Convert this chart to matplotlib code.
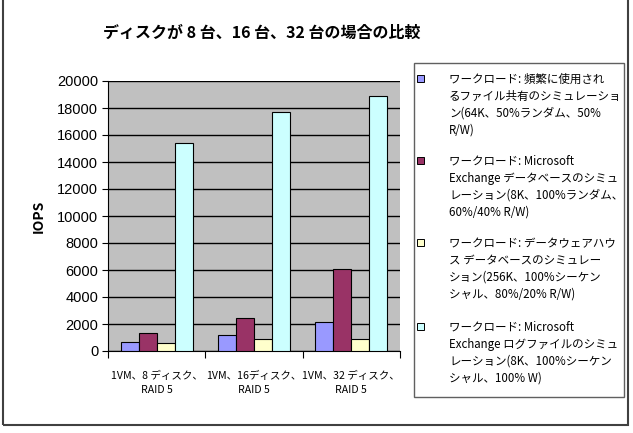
import matplotlib.pyplot as plt
from matplotlib.patches import Rectangle
import numpy as np

plt.rcParams['font.family'] = ['Noto Sans CJK JP', 'DejaVu Sans']

# data
title = 'ディスクが 8 台、16 台、32 台の場合の比較'
categories = ['1VM、8 ディスク、\nRAID 5', '1VM、16ディスク、\nRAID 5', '1VM、32 ディスク、\nRAID 5']
series_labels = [
    'ワークロード: 頻繁に使用され\nるファイル共有のシミュレーショ\nン(64K、50%ランダム、50%\nR/W)',
    'ワークロード: Microsoft\nExchange データベースのシミュ\nレーション(8K、100%ランダム、\n60%/40% R/W)',
    'ワークロード: データウェアハウ\nス データベースのシミュレー\nション(256K、100%シーケン\nシャル、80%/20% R/W)',
    'ワークロード: Microsoft\nExchange ログファイルのシミュ\nレーション(8K、100%シーケン\nシャル、100% W)',
]
file_share = [690, 1160, 2170]
exchange_db = [1310, 2420, 6070]
warehouse = [570, 870, 870]
exchange_log = [15380, 17700, 18890]
series = [file_share, exchange_db, warehouse, exchange_log]
colors = ['#9999FF', '#993366', '#FFFFCC', '#CCFFFF']
yticks = list(range(0, 20001, 2000))

W, H = 633, 433
fig = plt.figure(figsize=(W / 100, H / 100), dpi=100)
ax = fig.add_axes([108 / W, 1 - 351 / H, 292 / W, 270 / H])
ax.set_facecolor('#C0C0C0')

# bars
x = np.arange(len(categories))
bw = 0.185
for i, (vals, c) in enumerate(zip(series, colors)):
    ax.bar(x + (i - 1.5) * bw, vals, bw, color=c, edgecolor='black', linewidth=0.8, zorder=3)

ax.set_xlim(-0.5, len(categories) - 0.5)
ax.set_ylim(0, 20000)
ax.set_yticks(yticks)
ax.set_yticklabels([str(v) for v in yticks], family='Liberation Sans', fontsize=10.5)
ax.yaxis.grid(True, color='black', linewidth=1.0, zorder=1)
ax.set_axisbelow(True)

# category ticks at group boundaries
ax.set_xticks(np.arange(-0.5, len(categories), 1.0))
ax.set_xticklabels([])
ax.set_xticks(x, minor=True)
ax.set_xticklabels(categories, minor=True, fontsize=7.6, linespacing=1.6)
ax.tick_params(axis='x', which='minor', length=0, pad=14)
ax.tick_params(axis='x', which='major', length=5, color='black', direction='out')
ax.tick_params(axis='y', length=4, color='black', pad=3)

for s in ['top', 'right']:
    ax.spines[s].set_visible(False)
ax.spines['left'].set_color('black')
ax.spines['bottom'].set_color('black')

ax.set_ylabel('IOPS', fontsize=10, fontweight='bold', labelpad=8)

fig.text(262 / W, 1 - 33 / H, title, ha='center', va='center', fontsize=11.5, fontweight='bold')

# legend box drawn by hand
fig.patches.append(Rectangle((414 / W, 1 - 397 / H), 210 / W, 334 / H, transform=fig.transFigure,
                             facecolor='white', edgecolor='#606060', linewidth=1.0))
entry_y = [78, 160, 242, 326]
for lab, c, yy in zip(series_labels, colors, entry_y):
    fig.patches.append(Rectangle((417 / W, 1 - (yy + 3.5) / H), 7 / W, 7 / H, transform=fig.transFigure,
                                 facecolor=c, edgecolor='black', linewidth=0.7))
    fig.text(449 / W, 1 - (yy - 5) / H, lab, ha='left', va='top', fontsize=8.3, linespacing=1.4)

# outer chart frame
fig.patches.append(Rectangle((3 / W, 1 - 425 / H), 625 / W, 430 / H, transform=fig.transFigure,
                             facecolor='none', edgecolor='#404040', linewidth=1.5))

fig.savefig('out.png', dpi=100)
